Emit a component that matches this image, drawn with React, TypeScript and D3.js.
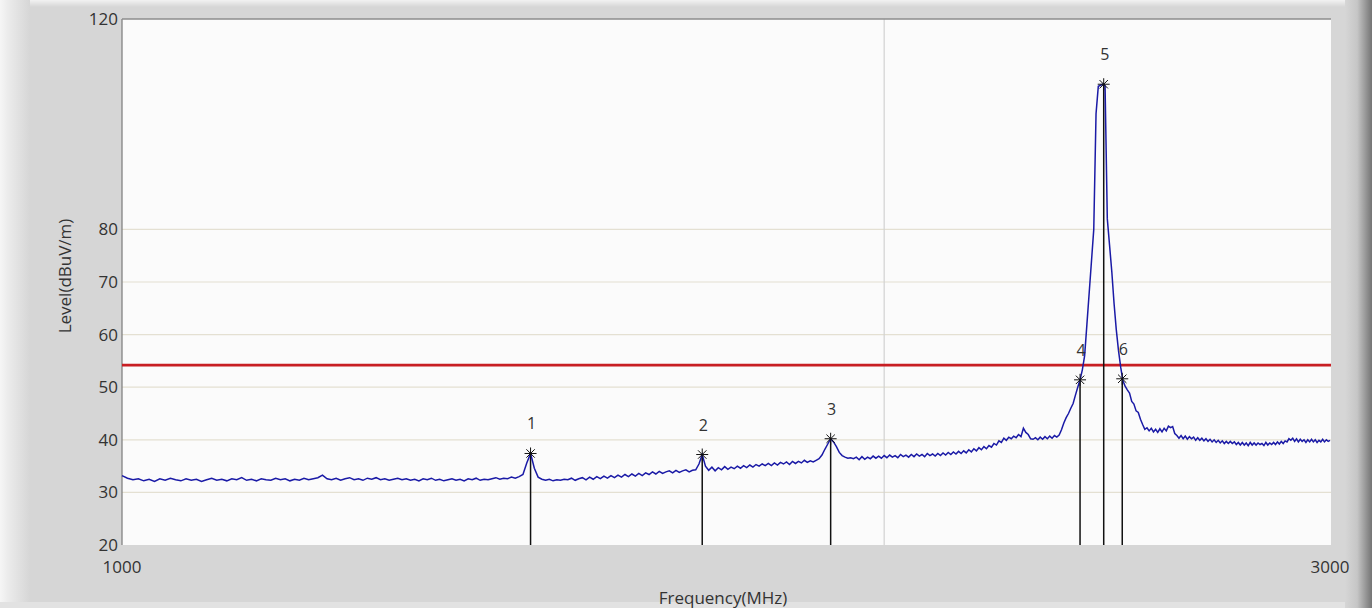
import React from 'react';
import * as d3 from 'd3';

// Receiver sweep: 1000–3000 MHz in 5 MHz steps, one level per step (dBuV/m)
const SWEEP_START_MHZ = 1000;
const SWEEP_STEP_MHZ = 5;
const levels = [
  33.2, 32.7, 32.4, 32.6, 32.2, 32.5, 32.1, 32.6, 32.3, 32.7,
  32.4, 32.2, 32.6, 32.3, 32.5, 32.1, 32.4, 32.7, 32.3, 32.5,
  32.2, 32.6, 32.4, 32.8, 32.3, 32.5, 32.2, 32.6, 32.4, 32.3,
  32.7, 32.4, 32.6, 32.2, 32.5, 32.3, 32.7, 32.4, 32.6, 32.8,
  33.3, 32.6, 32.4, 32.7, 32.3, 32.6, 32.8, 32.4, 32.6, 32.3,
  32.7, 32.5, 32.8, 32.4, 32.6, 32.3, 32.5, 32.7, 32.4, 32.6,
  32.3, 32.5, 32.2, 32.6, 32.4, 32.7, 32.3, 32.5, 32.2, 32.4,
  32.6, 32.3, 32.5, 32.2, 32.6, 32.4, 32.7, 32.3, 32.5, 32.4,
  32.6, 32.8, 32.5, 32.7, 32.6, 32.9, 32.7, 33.0, 33.4, 35.6,
  37.4, 34.6, 32.9, 32.5, 32.3, 32.5, 32.2, 32.4, 32.3, 32.5,
  32.4, 32.7, 32.3, 32.6, 32.8, 32.4, 32.9, 32.5, 33.0, 32.6,
  33.1, 32.7, 33.2, 32.8, 33.3, 32.9, 33.4, 33.0, 33.5, 33.1,
  33.6, 33.2, 33.7, 33.4, 33.9, 33.5, 34.0, 33.6, 33.9, 34.1,
  33.7, 34.2, 33.8, 34.1, 34.3, 33.9, 34.2, 34.3, 35.4, 37.2,
  35.0, 34.2, 34.8, 34.1, 34.7, 34.3, 34.9, 34.4, 34.8, 34.5,
  35.0, 34.6, 35.1, 34.7, 35.2, 34.8, 35.3, 35.0, 35.4, 35.1,
  35.5, 35.1, 35.6, 35.2, 35.7, 35.4, 35.8, 35.3, 35.9, 35.5,
  35.9, 35.6, 36.1, 35.7, 36.0, 35.8, 36.1, 36.4, 37.1, 38.2,
  39.2, 40.2, 39.6, 38.7, 37.6, 37.0, 36.7, 36.5, 36.6, 36.4,
  36.7, 36.2, 36.8, 36.3, 36.7, 36.4, 36.9, 36.5, 36.9, 36.5,
  37.0, 36.6, 37.1, 36.7, 37.0, 36.6, 37.2, 36.8, 37.1, 36.7,
  37.2, 36.8, 37.3, 36.9, 37.2, 36.8, 37.4, 37.0, 37.3, 36.9,
  37.4, 37.0, 37.5, 37.1, 37.6, 37.2, 37.7, 37.3, 37.8, 37.4,
  37.9, 37.5, 38.1, 37.7, 38.3, 37.9, 38.5, 38.1, 38.7, 38.3,
  38.9, 38.6, 39.3, 39.0, 39.8, 39.5, 40.3, 39.9, 40.5, 40.2,
  40.7, 40.4, 41.0, 40.6, 42.2, 41.4, 41.0, 40.2, 40.1, 40.4,
  40.0, 40.5, 40.1, 40.6, 40.2, 40.7, 40.3, 40.8, 40.5, 40.9,
  41.9, 43.2, 44.2, 45.0, 46.0, 46.9, 48.5, 50.0, 51.4, 53.3,
  56.0, 62.0, 68.0, 74.0, 80.0, 102.0, 107.2, 107.4, 107.6, 107.3,
  82.0, 77.0, 72.0, 66.0, 61.0, 57.0, 53.8, 51.2, 50.2, 49.5,
  48.9, 47.3, 46.8, 45.5, 45.2, 43.9, 42.9, 42.0, 42.3, 41.7,
  42.2, 41.5, 42.0, 41.4, 42.1, 41.5, 42.2, 41.7, 42.6, 42.3,
  42.5, 41.2, 40.8, 40.3, 40.8, 40.2, 40.7, 40.1, 40.6, 40.2,
  40.5, 39.9, 40.4, 39.9, 40.3, 39.8, 40.2, 39.7, 40.1, 39.6,
  40.0, 39.5, 39.9, 39.4, 39.8, 39.3, 39.7, 39.3, 39.7, 39.3,
  39.6, 39.1, 39.5, 39.0, 39.5, 39.0, 39.4, 38.9, 39.5, 39.0,
  39.4, 39.0, 39.4, 39.1, 39.3, 38.9, 39.5, 39.0, 39.4, 39.1,
  39.5, 39.1, 39.6, 39.2, 39.7, 39.3, 39.8, 39.6, 40.2, 39.9,
  40.3, 39.7, 40.2, 39.6, 40.1, 39.7, 40.0, 39.5, 40.0, 39.6,
  40.1, 39.6, 40.0, 39.5, 39.9, 39.6, 40.1, 39.6, 40.0, 39.7,
  39.9,
];

// Peak markers
const markerIds = [1, 2, 3, 4, 5, 6];
const markerFreqs = [1450, 1695, 1905, 2390, 2442, 2483.5];
const markerLevels = [37.4, 37.2, 40.2, 51.4, 107.6, 51.6];

// Limit line (dBuV/m)
const limitLevel = 54.2;

// Axes
const yTickValues = [20, 30, 40, 50, 60, 70, 80, 120];
const yGridValues = [30, 40, 50, 60, 70, 80];
const xTickValues = [1000, 3000];
const xGridValues = [2000];

const W = 1372;
const H = 608;
const PLOT = { left: 122, right: 1331, top: 19, bottom: 545 };
const FONT = "'Open Sans', 'Noto Sans', sans-serif";

export default function App() {
  const x = d3.scaleLog().domain([1000, 3000]).range([PLOT.left, PLOT.right - 1]);
  const y = d3.scaleLinear().domain([20, 120]).range([PLOT.bottom, PLOT.top]);

  const trace = levels.map((v, i) => ({ f: SWEEP_START_MHZ + i * SWEEP_STEP_MHZ, v }));
  const line = d3
    .line<{ f: number; v: number }>()
    .x((d) => x(d.f))
    .y((d) => y(d.v));

  const markers = markerIds.map((id, i) => ({ id, f: markerFreqs[i], v: markerLevels[i] }));

  const star = (cx: number, cy: number) => {
    const r = 6;
    const d = 4.2;
    return [
      `M${cx - r},${cy}L${cx + r},${cy}`,
      `M${cx},${cy - r}L${cx},${cy + r}`,
      `M${cx - d},${cy - d}L${cx + d},${cy + d}`,
      `M${cx - d},${cy + d}L${cx + d},${cy - d}`,
    ].join('');
  };

  return (
    <svg
      width={W}
      height={H}
      style={{ position: 'absolute', left: 0, top: 0, display: 'block' }}
      fontFamily={FONT}
    >
      <defs>
        <linearGradient id="bevelLeft" x1="0" x2="1" y1="0" y2="0">
          <stop offset="0" stopColor="#f6f6f6" />
          <stop offset="0.25" stopColor="#ececec" />
          <stop offset="1" stopColor="#d6d6d6" />
        </linearGradient>
        <linearGradient id="bevelRight" x1="0" x2="1" y1="0" y2="0">
          <stop offset="0" stopColor="#d6d6d6" />
          <stop offset="0.45" stopColor="#c6c6c6" />
          <stop offset="1" stopColor="#747474" />
        </linearGradient>
        <linearGradient id="bevelTop" x1="0" x2="0" y1="0" y2="1">
          <stop offset="0" stopColor="#f2f2f2" />
          <stop offset="1" stopColor="#d6d6d6" />
        </linearGradient>
      </defs>

      {/* panel frame */}
      <rect x={0} y={0} width={W} height={H} fill="#d6d6d6" />
      <rect x={0} y={0} width={W} height={7} fill="url(#bevelTop)" />
      <rect x={0} y={0} width={30} height={H} fill="url(#bevelLeft)" />
      <rect x={1345} y={0} width={W - 1345} height={H} fill="url(#bevelRight)" />
      <rect x={0} y={H - 6} width={1345} height={6} fill="#e2e2e2" />

      {/* plot area */}
      <rect
        x={PLOT.left}
        y={PLOT.top}
        width={PLOT.right - PLOT.left}
        height={PLOT.bottom - PLOT.top}
        fill="#fbfbfb"
      />

      {yGridValues.map((v) => (
        <line
          key={`yg${v}`}
          x1={PLOT.left}
          x2={PLOT.right}
          y1={y(v)}
          y2={y(v)}
          stroke="#e4e0d2"
          strokeWidth={1.2}
        />
      ))}
      {xGridValues.map((f) => (
        <line
          key={`xg${f}`}
          x1={x(f)}
          x2={x(f)}
          y1={PLOT.top}
          y2={PLOT.bottom}
          stroke="#d2d2d2"
          strokeWidth={1.2}
        />
      ))}

      <line x1={PLOT.left} x2={PLOT.left} y1={PLOT.top} y2={PLOT.bottom} stroke="#7a7a7a" strokeWidth={1.2} />
      <line x1={PLOT.left} x2={PLOT.right} y1={PLOT.top} y2={PLOT.top} stroke="#8c8c8c" strokeWidth={1.6} />

      {/* limit line */}
      <line
        x1={PLOT.left}
        x2={PLOT.right}
        y1={y(limitLevel)}
        y2={y(limitLevel)}
        stroke="#c81e23"
        strokeWidth={2.8}
      />

      {/* marker drop lines */}
      {markers.map((m) => (
        <line
          key={`ml${m.id}`}
          x1={x(m.f)}
          x2={x(m.f)}
          y1={y(m.v)}
          y2={PLOT.bottom}
          stroke="#111"
          strokeWidth={1.5}
        />
      ))}

      {/* measured trace */}
      <path d={line(trace) ?? ''} fill="none" stroke="#1a1aa6" strokeWidth={1.5} strokeLinejoin="miter" />

      {/* marker symbols and numbers */}
      {markers.map((m) => (
        <g key={`mk${m.id}`}>
          <path d={star(x(m.f), y(m.v))} stroke="#111" strokeWidth={1} fill="none" />
          <text
            x={x(m.f) + 1}
            y={y(m.v) - 24}
            textAnchor="middle"
            fontSize={16}
            fill="#333"
          >
            {m.id}
          </text>
        </g>
      ))}

      {/* y axis labels */}
      {yTickValues.map((v) => (
        <text
          key={`yt${v}`}
          x={PLOT.left - 4}
          y={y(v)}
          dy="0.35em"
          textAnchor="end"
          fontSize={17}
          fill="#333"
        >
          {v}
        </text>
      ))}

      {/* x axis labels */}
      {xTickValues.map((f) => (
        <text key={`xt${f}`} x={x(f)} y={573} textAnchor="middle" fontSize={17} fill="#333">
          {f}
        </text>
      ))}

      <text x={723} y={604} textAnchor="middle" fontSize={17} fill="#333">
        Frequency(MHz)
      </text>
      <text
        transform={`translate(71,276) rotate(-90)`}
        textAnchor="middle"
        fontSize={17}
        fill="#333"
      >
        Level(dBuV/m)
      </text>
    </svg>
  );
}
